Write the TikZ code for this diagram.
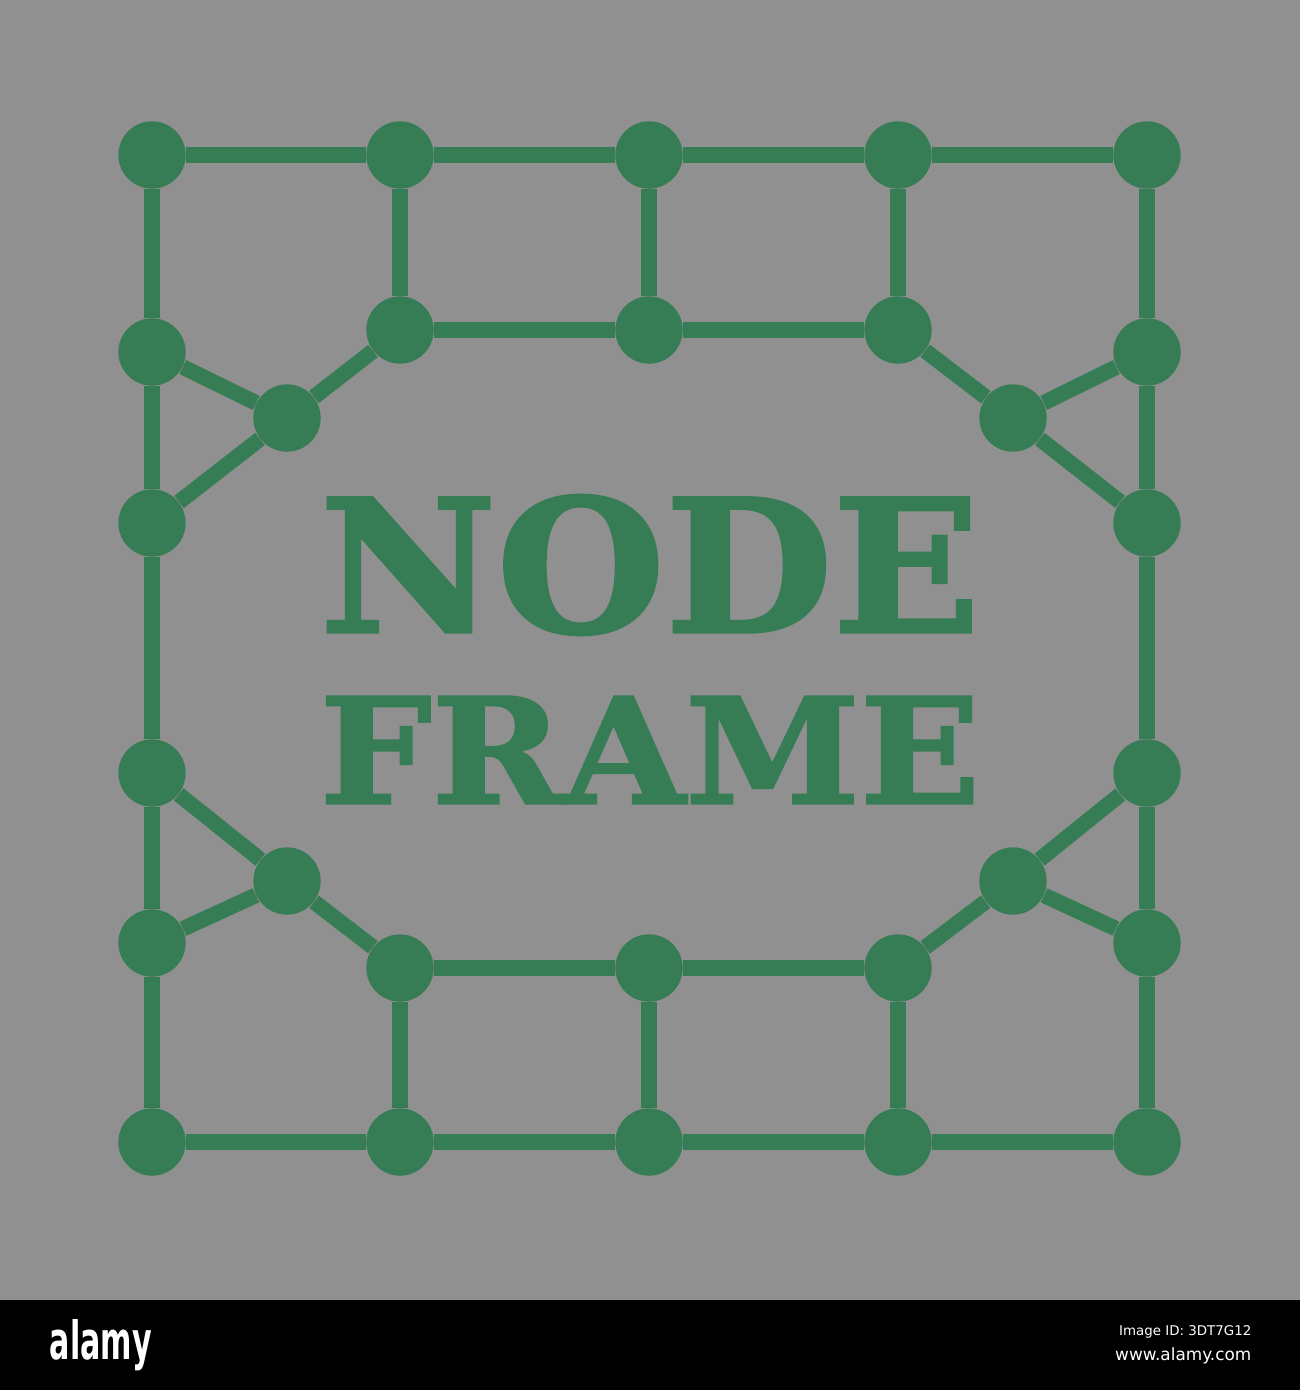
\documentclass[tikz,border=0pt]{standalone}
\usepackage{fontspec}
\newfontfamily\slabfont{DejaVu Serif}[BoldFeatures={FakeBold=1.6}]
\newfontfamily\barfont{DejaVu Sans}
\usepackage{graphicx}
\definecolor{bggray}{RGB}{143,144,143}
\definecolor{nodegreen}{RGB}{54,125,85}
\tikzset{
  dot/.style={circle, fill=nodegreen, inner sep=0pt, minimum size=0.67cm},
  link/.style={draw=nodegreen, line width=0.155cm},
  title/.style={text=nodegreen, inner sep=0pt, font=\slabfont\bfseries},
  bartext/.style={text=white, inner sep=0pt, font=\barfont}
}
\begin{document}
\begin{tikzpicture}[x=0.01cm, y=-0.01cm]
\useasboundingbox (0,0) rectangle (1300,1390);
\fill[bggray] (0,0) rectangle (1300,1300);
\fill[black] (0,1300) rectangle (1300,1390);
% nodes
\foreach \n/\x/\y in {t1/152/155, t2/400/155, t3/649/155, t4/898/155, t5/1147/155,
  u2/400/330, u3/649/330, u4/898/330,
  l1/152/352, lm/287/418, l2/152/523,
  r1/1147/352, rm/1013/418, r2/1147/523,
  l3/152/773, lmb/287/881, l4/152/943,
  r3/1147/773, rmb/1013/881, r4/1147/943,
  d2/400/968, d3/649/968, d4/898/968,
  b1/152/1142, b2/400/1142, b3/649/1142, b4/898/1142, b5/1147/1142}
  \node[dot] (\n) at (\x,\y) {};
% connectors
\draw[link] (t1) -- (t2) -- (t3) -- (t4) -- (t5);
\draw[link] (b1) -- (b2) -- (b3) -- (b4) -- (b5);
\draw[link] (t1) -- (l1) -- (l2) -- (l3) -- (l4) -- (b1);
\draw[link] (t5) -- (r1) -- (r2) -- (r3) -- (r4) -- (b5);
\draw[link] (t2) -- (u2); \draw[link] (t3) -- (u3); \draw[link] (t4) -- (u4);
\draw[link] (u2) -- (u3) -- (u4);
\draw[link] (u2) -- (lm); \draw[link] (lm) -- (l1); \draw[link] (lm) -- (l2);
\draw[link] (u4) -- (rm); \draw[link] (rm) -- (r1); \draw[link] (rm) -- (r2);
\draw[link] (d2) -- (lmb); \draw[link] (lmb) -- (l3); \draw[link] (lmb) -- (l4);
\draw[link] (d4) -- (rmb); \draw[link] (rmb) -- (r3); \draw[link] (rmb) -- (r4);
\draw[link] (d2) -- (d3) -- (d4);
\draw[link] (d2) -- (b2); \draw[link] (d3) -- (b3); \draw[link] (d4) -- (b4);
% dots on top of the connectors
\foreach \n in {t1,t2,t3,t4,t5,u2,u3,u4,l1,lm,l2,r1,rm,r2,l3,lmb,l4,r3,rmb,r4,d2,d3,d4,b1,b2,b3,b4,b5}
  \fill[nodegreen] (\n) circle (33.5);
% title
\node[title] (node) at (650,565) {\resizebox{6.60cm}{1.37cm}{NODE}};
\node[title] (frame) at (650,750) {\resizebox{6.60cm}{1.07cm}{FRAME}};
% bottom bar
\node[bartext, font=\barfont\bfseries] (logo) at (101,1345) {\resizebox{1.02cm}{0.40cm}{alamy}};
\node[bartext, anchor=east] (imgid) at (1252,1332) {\resizebox{1.32cm}{!}{Image ID: 3DT7G12}};
\node[bartext, anchor=east] (web) at (1252,1356) {\resizebox{1.36cm}{!}{www.alamy.com}};
\end{tikzpicture}
\end{document}
